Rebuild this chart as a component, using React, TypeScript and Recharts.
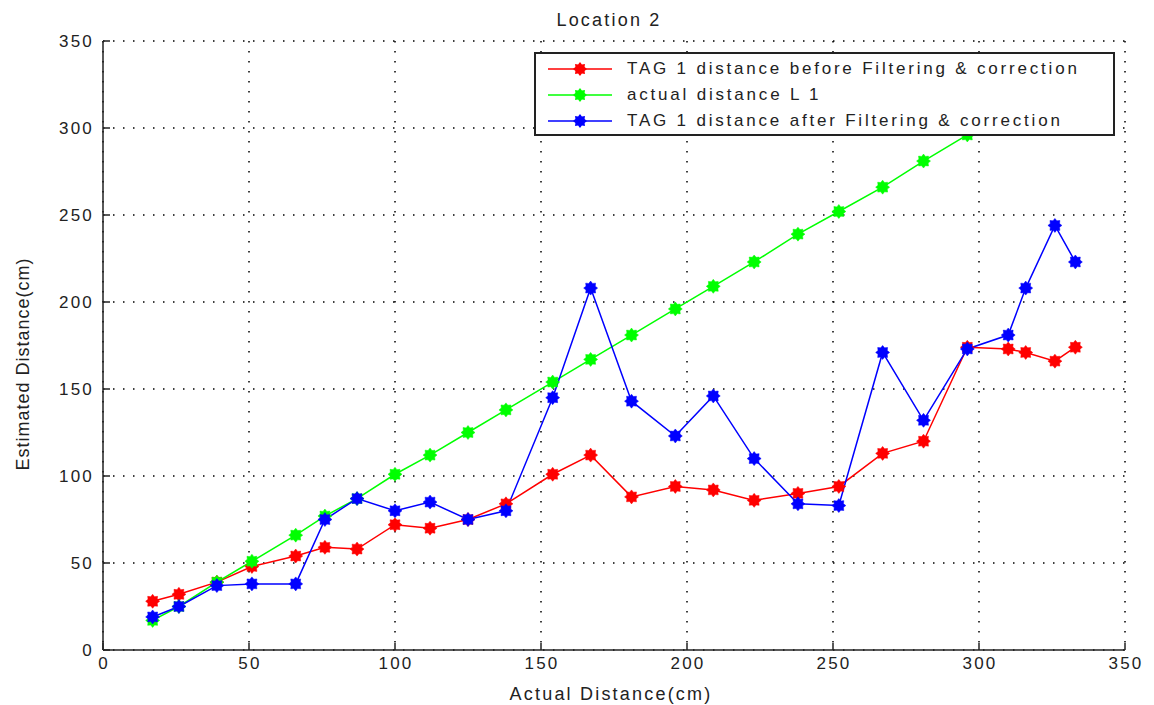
import React from 'react';
import { LineChart, Line, XAxis, YAxis, CartesianGrid, Legend, Label } from 'recharts';

const actualDistance = [17, 26, 39, 51, 66, 76, 87, 100, 112, 125, 138, 154, 167, 181, 196, 209, 223, 238, 252, 267, 281, 296, 310, 316, 326, 333];
const beforeFiltering = [28, 32, 39, 48, 54, 59, 58, 72, 70, 75, 84, 101, 112, 88, 94, 92, 86, 90, 94, 113, 120, 174, 173, 171, 166, 174];
const actualL1 = [17, 25, 39, 51, 66, 77, 87, 101, 112, 125, 138, 154, 167, 181, 196, 209, 223, 239, 252, 266, 281, 296, 310, 316, 326, 333];
const afterFiltering = [19, 25, 37, 38, 38, 75, 87, 80, 85, 75, 80, 145, 208, 143, 123, 146, 110, 84, 83, 171, 132, 173, 181, 208, 244, 223];
const axisTicks = [0, 50, 100, 150, 200, 250, 300, 350];

const seriesInfo = [
  { key: 'before', name: 'TAG 1 distance before Filtering & correction', color: '#ff0000' },
  { key: 'actual', name: 'actual distance L 1', color: '#00ff00' },
  { key: 'after', name: 'TAG 1 distance after Filtering & correction', color: '#0000ff' },
];

const data = actualDistance.map((x, i) => ({
  x,
  before: beforeFiltering[i],
  actual: actualL1[i],
  after: afterFiltering[i],
}));

const FONT = '"Liberation Sans", Arial, Helvetica, sans-serif';
const TEXT_STYLE = { fontFamily: FONT, fontSize: 17, letterSpacing: 2.2, fill: '#222' };
const LABEL_STYLE = { fontFamily: FONT, fontSize: 18, letterSpacing: 2.2, fill: '#222' };

const starPoints = (cx: number, cy: number, outer: number, inner: number) => {
  const pts: string[] = [];
  for (let i = 0; i < 16; i++) {
    const r = i % 2 === 0 ? outer : inner;
    const a = (Math.PI / 8) * i;
    pts.push(`${cx + r * Math.cos(a)},${cy + r * Math.sin(a)}`);
  }
  return pts.join(' ');
};

const makeDot = (color: string) => (props: any) => {
  const { cx, cy, index } = props;
  if (cx == null || cy == null) return <g key={index} />;
  return <polygon key={index} points={starPoints(cx, cy, 7, 5)} fill={color} stroke={color} strokeWidth={0.5} />;
};

const BottomTick = (props: any) => {
  const { x, y, payload } = props;
  return (
    <g>
      <line x1={x} x2={x} y1={y} y2={y - 7} stroke="#222" strokeWidth={1.5} />
      <text x={x + 1} y={y + 19} textAnchor="middle" style={TEXT_STYLE}>{payload.value}</text>
    </g>
  );
};

const LeftTick = (props: any) => {
  const { x, y, payload } = props;
  return (
    <g>
      <line x1={x + 11} x2={x + 18} y1={y} y2={y} stroke="#222" strokeWidth={1.5} />
      <text x={x + 2} y={y + 6} textAnchor="end" style={TEXT_STYLE}>{payload.value}</text>
    </g>
  );
};

const TopTick = (props: any) => {
  const { x, y } = props;
  return <line x1={x} x2={x} y1={y} y2={y + 7} stroke="#222" strokeWidth={1.5} />;
};

const RightTick = (props: any) => {
  const { x, y } = props;
  return <line x1={x} x2={x - 7} y1={y} y2={y} stroke="#222" strokeWidth={1.5} />;
};

const LegendBox = () => (
  <div
    style={{
      border: '2px solid #222',
      background: '#fff',
      width: 581,
      height: 84,
      boxSizing: 'border-box',
      paddingTop: 2,
    }}
  >
    {seriesInfo.map((s) => (
      <div key={s.key} style={{ display: 'flex', alignItems: 'center', height: 26 }}>
        <svg width={91} height={26} style={{ flex: 'none' }}>
          <line x1={12} x2={76} y1={13} y2={13} stroke={s.color} strokeWidth={1.5} />
          <polygon points={starPoints(44, 13, 7, 5)} fill={s.color} />
        </svg>
        <span style={{ fontFamily: FONT, fontSize: 17, letterSpacing: 2.8, color: '#222', whiteSpace: 'nowrap' }}>
          {s.name}
        </span>
      </div>
    ))}
  </div>
);

const App: React.FC = () => {
  return (
    <div style={{ marginTop: -8, marginLeft: -8, width: 1154, height: 705, background: '#fff' }}>
      <LineChart width={1154} height={705} data={data} margin={{ top: 41, right: 29, left: 43, bottom: 0 }}>
        <CartesianGrid stroke="#000" strokeWidth={1.5} strokeDasharray="1.5 8.5" />
        <XAxis
          dataKey="x"
          type="number"
          domain={[0, 350]}
          ticks={axisTicks}
          interval={0}
          height={55}
          tickSize={0}
          tickMargin={0}
          axisLine={{ stroke: '#222', strokeWidth: 1.5 }}
          tick={<BottomTick />}
        >
          <Label
            content={(p: any) => {
              const mid = p.viewBox.x + p.viewBox.width / 2;
              return (
                <g>
                  <text x={mid - 3} y={p.viewBox.y + 50} textAnchor="middle" style={LABEL_STYLE}>
                    Actual Distance(cm)
                  </text>
                  <text x={mid - 5} y={26} textAnchor="middle" style={LABEL_STYLE}>
                    Location 2
                  </text>
                </g>
              );
            }}
          />
        </XAxis>
        <XAxis
          xAxisId="top"
          orientation="top"
          dataKey="x"
          type="number"
          domain={[0, 350]}
          ticks={axisTicks}
          interval={0}
          height={0}
          tickSize={0}
          tickMargin={0}
          axisLine={{ stroke: '#222', strokeWidth: 1.5 }}
          tick={<TopTick />}
        />
        <YAxis
          type="number"
          domain={[0, 350]}
          ticks={axisTicks}
          interval={0}
          width={60}
          tickSize={0}
          tickMargin={11}
          axisLine={{ stroke: '#222', strokeWidth: 1.5 }}
          tick={<LeftTick />}
        >
          <Label
            content={(p: any) => {
              const cx = 29;
              const cy = 364;
              return (
                <text
                  x={cx}
                  y={cy}
                  textAnchor="middle"
                  transform={`rotate(-90 ${cx} ${cy})`}
                  style={{ fontFamily: FONT, fontSize: 18, letterSpacing: 1, fill: '#222' }}
                >
                  Estimated Distance(cm)
                </text>
              );
            }}
          />
        </YAxis>
        <YAxis
          yAxisId="right"
          orientation="right"
          type="number"
          domain={[0, 350]}
          ticks={axisTicks}
          interval={0}
          width={0}
          tickSize={0}
          tickMargin={0}
          axisLine={{ stroke: '#222', strokeWidth: 1.5 }}
          tick={<RightTick />}
        />
        {seriesInfo.map((s) => (
          <Line
            key={s.key}
            dataKey={s.key}
            name={s.name}
            stroke={s.color}
            strokeWidth={1.5}
            dot={makeDot(s.color)}
            activeDot={false}
            isAnimationActive={false}
          />
        ))}
        <Legend
          layout="vertical"
          align="center"
          verticalAlign="middle"
          content={<LegendBox />}
          wrapperStyle={{ top: 52, left: 534, width: 581 }}
        />
      </LineChart>
    </div>
  );
};

export default App;
